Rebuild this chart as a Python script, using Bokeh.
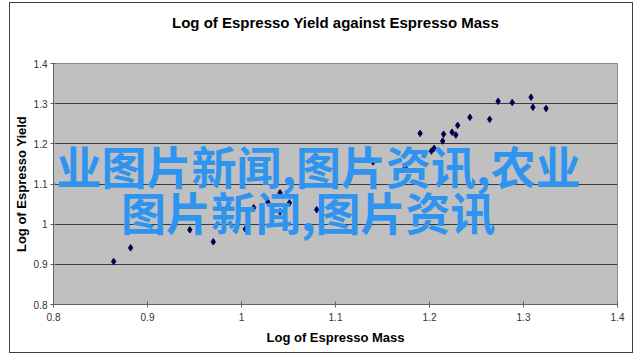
from bokeh.plotting import figure
from bokeh.models import Label, Title, FixedTicker, ColumnDataSource
from bokeh.embed import file_html
from bokeh.resources import INLINE

log_mass = [0.864, 0.882, 0.945, 0.970, 1.004, 1.013, 1.028, 1.041, 1.041, 1.051,
            1.080, 1.140, 1.174, 1.190, 1.202, 1.205, 1.214, 1.215, 1.224, 1.228,
            1.230, 1.243, 1.264, 1.273, 1.288, 1.308, 1.310, 1.324]
log_yield = [0.907, 0.941, 0.986, 0.956, 0.988, 1.041, 1.055, 1.078, 1.031, 1.053,
             1.036, 1.155, 1.142, 1.226, 1.182, 1.189, 1.207, 1.224, 1.229, 1.222,
             1.246, 1.266, 1.261, 1.306, 1.303, 1.316, 1.291, 1.288]
ticks = [0.8, 0.9, 1.0, 1.1, 1.2, 1.3, 1.4]
tick_labels = {0.8: "0.8", 0.9: "0.9", 1.0: "1", 1.1: "1.1", 1.2: "1.2", 1.3: "1.3", 1.4: "1.4"}
title_text = "Log of Espresso Yield against Espresso Mass"
x_title = "Log of Espresso Mass"
y_title = "Log of Espresso Yield"
watermark1 = "农业图片新闻,图片资讯,农业"
watermark2 = "图片新闻,图片资讯"

FONT = "Liberation Sans"

p = figure(width=622, height=349, output_backend="svg", toolbar_location=None,
           x_range=(0.8, 1.4), y_range=(0.8, 1.4),
           min_border_left=43, min_border_right=15, min_border_top=60, min_border_bottom=48,
           margin=(3, 8, 7, 10),
           stylesheets=[":host { outline: 1px solid #404040; box-shadow: 0 0 0 1px #404040; }"])
p.background_fill_color = "#c0c0c0"
p.border_fill_color = "white"
p.outline_line_color = "#8a8a8a"

# spacer between frame and title (pushes the title up)
p.add_layout(Title(text=" ", text_font_size="1px", standoff=25), "above")

p.title.text = title_text
p.title.align = "center"
p.title.text_font = FONT
p.title.text_font_size = "15px"
p.title.text_font_style = "bold"
p.title.text_color = "black"

for ax in (p.xaxis, p.yaxis):
    ax.ticker = FixedTicker(ticks=ticks)
    ax.major_label_overrides = tick_labels
    ax.minor_tick_line_color = None
    ax.major_tick_in = 3
    ax.major_tick_out = 3
    ax.axis_line_color = "#606060"
    ax.major_tick_line_color = "#606060"
    ax.major_label_text_font = FONT
    ax.major_label_text_font_size = "10px"
    ax.major_label_text_color = "#333333"
    ax.axis_label_text_font = FONT
    ax.axis_label_text_font_size = "13px"
    ax.axis_label_text_font_style = "bold"
    ax.axis_label_text_color = "black"

p.xaxis.axis_label = x_title
p.yaxis.axis_label = y_title
p.xaxis.major_label_standoff = 5
p.xaxis.axis_label_standoff = 6
p.yaxis.major_label_standoff = 3
p.yaxis.axis_label_standoff = 2

p.xgrid.grid_line_color = None
p.ygrid.ticker = FixedTicker(ticks=ticks)
p.ygrid.grid_line_color = "#3a3a3a"
p.ygrid.grid_line_width = 1

src = ColumnDataSource(dict(x=log_mass, y=log_yield))
p.scatter("x", "y", source=src, marker="diamond", size=6.5,
          fill_color="#000050", line_color="#000050")

# overlaid watermark text
for txt, xx, yy in ((watermark1, 1.058, 1.147), (watermark2, 1.071, 1.031)):
    p.add_layout(Label(x=xx, y=yy, text=txt, text_align="center",
                       text_baseline="middle", text_font="Noto Sans CJK SC",
                       text_font_size="45px", text_font_style="bold",
                       text_color="#2f94f0"))

open("out.html", "w").write(file_html(p, INLINE))
